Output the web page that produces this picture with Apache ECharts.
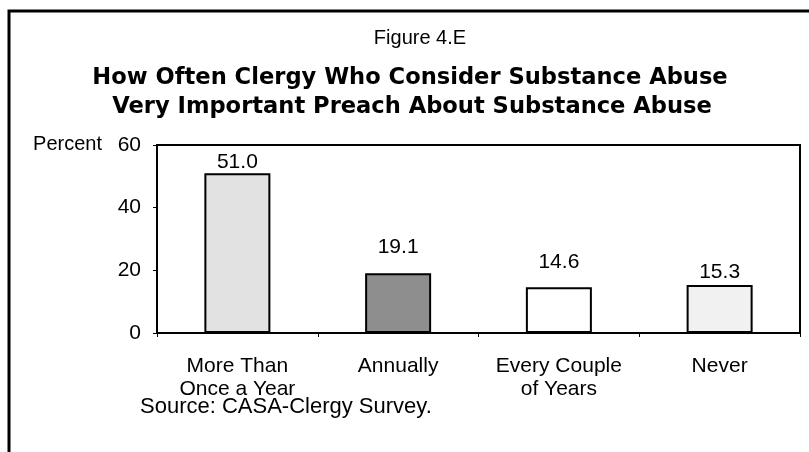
<!DOCTYPE html>
<html>
<head>
  <meta charset="utf-8">
  <title>Figure 4.E</title>
  <script src="https://cdn.jsdelivr.net/npm/echarts@6/dist/echarts.min.js"></script>
</head>
<body style="margin:0;background:#fff">
  <div id="main" style="width:809px;height:452px"></div>
  <script type="text/javascript">
    // data
    var categories = ['More Than\nOnce a Year', 'Annually', 'Every Couple\nof Years', 'Never'];
    var values = [51.0, 19.1, 14.6, 15.3];
    var yTicks = { min: 0, max: 60, interval: 20 };

    // per-bar look (stipple approximated by flat greys), label gap above each bar
    var barFills = ['#e2e2e2', '#8e8e8e', '#ffffff', '#f1f1f1'];
    var labelGaps = [0, 15, 15, 2];

    var font = '"Liberation Sans", Arial, sans-serif';
    var myChart = echarts.init(document.getElementById('main'));

    var barData = [];
    for (var i = 0; i < values.length; i++) {
      barData.push({
        value: values[i],
        itemStyle: { color: barFills[i] },
        label: { distance: labelGaps[i] }
      });
    }

    var option = {
      animation: false,
      backgroundColor: '#fff',
      grid: {
        left: 157, right: 9, top: 145, bottom: 119,
        show: true,
        borderColor: '#000',
        borderWidth: 2
      },
      xAxis: {
        type: 'category',
        data: categories,
        axisLine: { lineStyle: { color: '#000', width: 2 } },
        axisTick: { show: true, length: 4, lineStyle: { color: '#000', width: 1 } },
        axisLabel: {
          color: '#000', fontFamily: font, fontSize: 21,
          lineHeight: 23, margin: 22, interval: 0
        }
      },
      yAxis: {
        type: 'value',
        min: yTicks.min, max: yTicks.max, interval: yTicks.interval,
        splitLine: { show: false },
        axisLine: { show: true, lineStyle: { color: '#000', width: 2 } },
        axisTick: { show: true, length: 4, lineStyle: { color: '#000', width: 1 } },
        axisLabel: { color: '#000', fontFamily: font, fontSize: 21, margin: 16 }
      },
      series: [{
        type: 'bar',
        barWidth: 66,
        data: barData,
        itemStyle: { borderColor: '#000', borderWidth: 2 },
        label: {
          show: true,
          position: 'top',
          color: '#000',
          fontFamily: font,
          fontSize: 21,
          formatter: function (p) { return p.value.toFixed(1); }
        }
      }],
      graphic: [
        {
          type: 'rect',
          shape: { x: 9, y: 11, width: 820, height: 460 },
          style: { fill: 'none', stroke: '#000', lineWidth: 3 },
          silent: true
        },
        {
          type: 'text', x: 420, y: 38,
          style: {
            text: 'Figure 4.E', textAlign: 'center', textVerticalAlign: 'middle',
            font: '20px "Liberation Sans Narrow", "Liberation Sans", sans-serif', fill: '#000'
          }
        },
        {
          type: 'text', x: 410, y: 78,
          style: {
            text: 'How Often Clergy Who Consider Substance Abuse',
            textAlign: 'center', textVerticalAlign: 'middle',
            font: 'bold 22.6px "DejaVu Sans", sans-serif', fill: '#000'
          }
        },
        {
          type: 'text', x: 412, y: 107,
          style: {
            text: 'Very Important Preach About Substance Abuse',
            textAlign: 'center', textVerticalAlign: 'middle',
            font: 'bold 22.6px "DejaVu Sans", sans-serif', fill: '#000'
          }
        },
        {
          type: 'text', x: 102, y: 144,
          style: {
            text: 'Percent', textAlign: 'right', textVerticalAlign: 'middle',
            font: '20px ' + font, fill: '#000'
          }
        },
        {
          type: 'text', x: 140, y: 407,
          style: {
            text: 'Source: CASA-Clergy Survey.', textAlign: 'left', textVerticalAlign: 'middle',
            font: '22px ' + font, fill: '#000'
          }
        }
      ]
    };
    myChart.setOption(option);
  </script>
</body>
</html>
